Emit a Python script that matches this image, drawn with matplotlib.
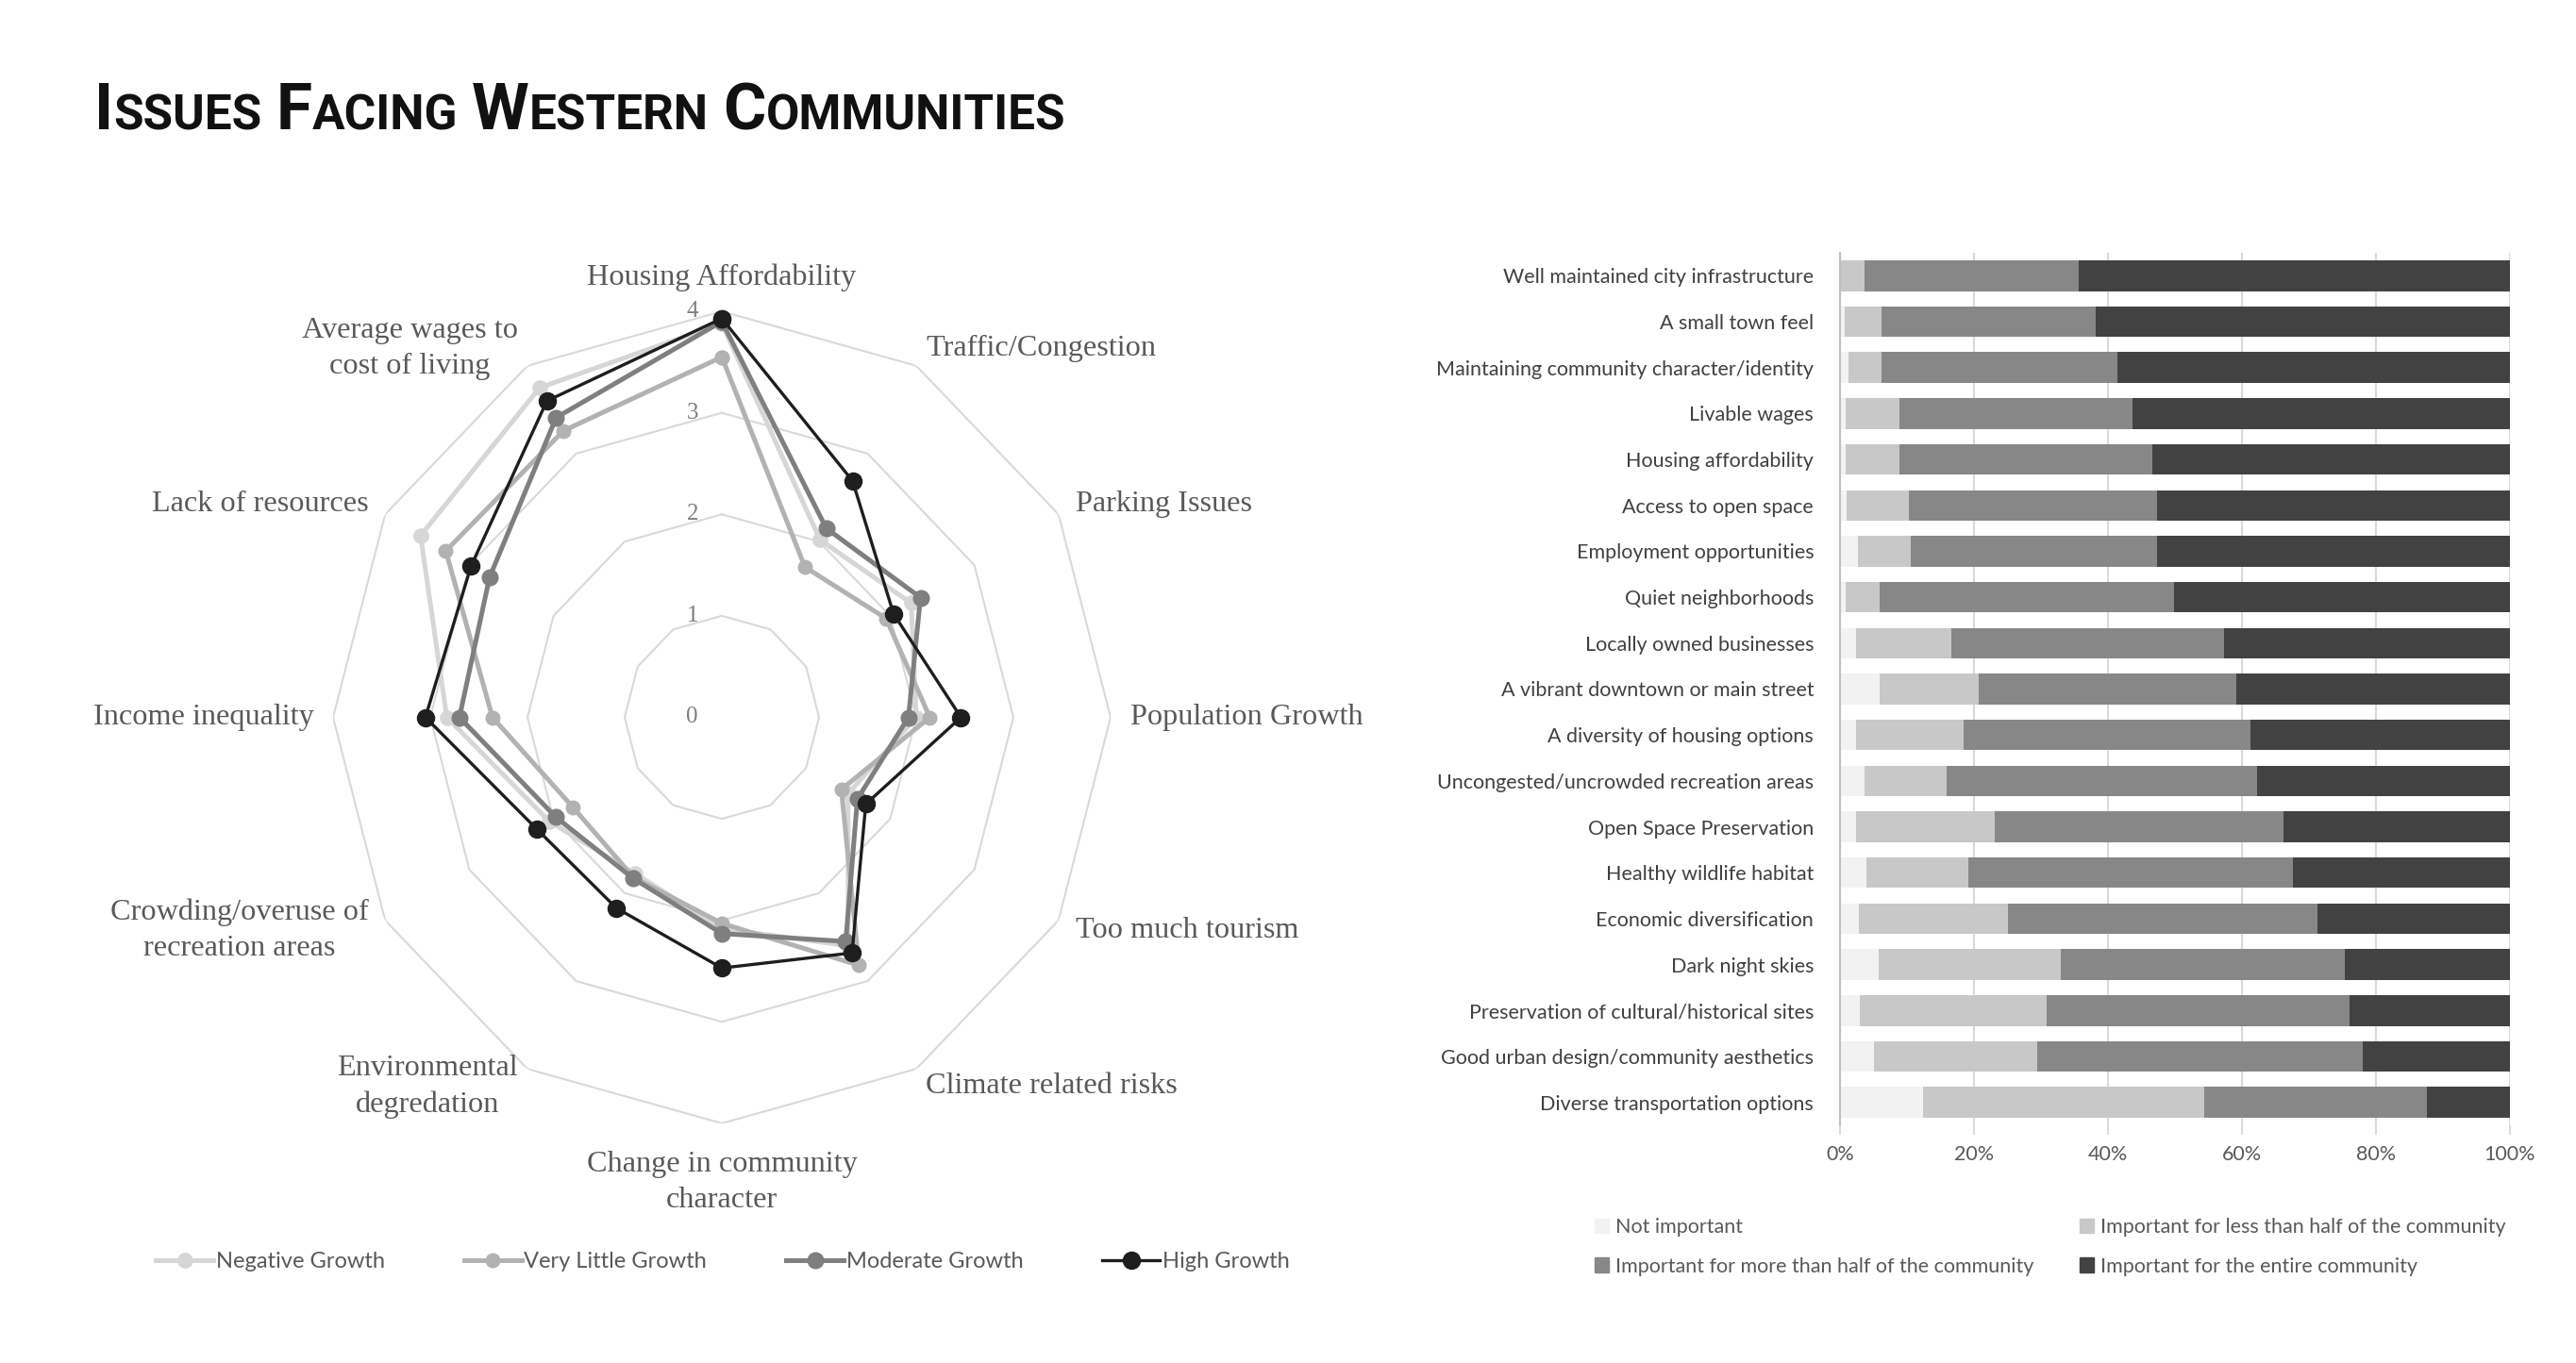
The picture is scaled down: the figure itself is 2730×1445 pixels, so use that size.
import numpy as np
import matplotlib.pyplot as plt
from matplotlib.lines import Line2D
from matplotlib.patches import Patch

# --- radar data: average rating (0-4) by community growth type ---
issues = ['Housing Affordability', 'Traffic/Congestion', 'Parking Issues', 'Population Growth',
          'Too much tourism', 'Climate related risks', 'Change in community\ncharacter',
          'Environmental\ndegredation', 'Crowding/overuse of\nrecreation areas', 'Income inequality',
          'Lack of resources', 'Average wages to\ncost of living']
negative_growth = [3.88, 2.02, 2.25, 2.00, 1.50, 2.60, 2.08, 1.78, 2.05, 2.83, 3.58, 3.75]
very_little_growth = [3.55, 1.71, 1.95, 2.14, 1.42, 2.82, 2.03, 1.82, 1.77, 2.36, 3.28, 3.26]
moderate_growth = [3.90, 2.15, 2.36, 1.92, 1.61, 2.55, 2.13, 1.83, 1.97, 2.70, 2.76, 3.41]
high_growth = [3.93, 2.69, 2.04, 2.46, 1.71, 2.68, 2.47, 2.17, 2.20, 3.05, 2.98, 3.60]
ring_levels = [0, 1, 2, 3, 4]

# --- stacked bar data (% of respondents) ---
priorities = ['Well maintained city infrastructure', 'A small town feel',
              'Maintaining community character/identity', 'Livable wages', 'Housing affordability',
              'Access to open space', 'Employment opportunities', 'Quiet neighborhoods',
              'Locally owned businesses', 'A vibrant downtown or main street',
              'A diversity of housing options', 'Uncongested/uncrowded recreation areas',
              'Open Space Preservation', 'Healthy wildlife habitat', 'Economic diversification',
              'Dark night skies', 'Preservation of cultural/historical sites',
              'Good urban design/community aesthetics', 'Diverse transportation options']
not_important = [0.0, 0.7, 1.3, 0.8, 0.8, 1.0, 2.7, 0.8, 2.4, 5.9, 2.4, 3.7, 2.4, 4.0, 2.8, 5.8, 3.0, 5.1, 12.4]
less_than_half = [3.6, 5.5, 4.9, 8.1, 8.1, 9.3, 7.8, 5.1, 14.2, 14.8, 16.0, 12.2, 20.7, 15.2, 22.3, 27.1, 27.8, 24.4, 41.9]
more_than_half = [32.0, 31.9, 35.2, 34.7, 37.7, 37.0, 36.8, 43.9, 40.7, 38.5, 42.9, 46.3, 43.1, 48.4, 46.1, 42.4, 45.2, 48.5, 33.3]
entire_community = [64.4, 61.9, 58.6, 56.4, 53.4, 52.7, 52.7, 50.2, 42.7, 40.8, 38.7, 37.8, 33.8, 32.4, 28.8, 24.7, 24.0, 22.0, 12.4]
xticks = [0, 20, 40, 60, 80, 100]

W, H = 2730, 1445
fig = plt.figure(figsize=(W / 100, H / 100), dpi=100)
fig.patch.set_facecolor('white')

serif = 'Liberation Serif'
sans = 'Lato'

# title in small caps, built word by word
tax = fig.add_axes([0, 0, 1, 1])
tax.axis('off')
tax.patch.set_visible(False)
title_words = ['Issues', 'Facing', 'Western', 'Communities']
tfont = dict(family='Roboto', weight='bold', color='#111111')
base_y = 1 - 137 / H
prev = None
for w in title_words:
    if prev is None:
        prev = tax.text(100 / W, base_y, w[0], fontsize=50, va='baseline', ha='left', **tfont)
    else:
        prev = tax.annotate(w[0], xy=(1, base_y), xycoords=(prev, 'axes fraction'),
                            xytext=(11, 0), textcoords='offset points',
                            fontsize=50, va='baseline', ha='left', **tfont)
    prev = tax.annotate(w[1:].upper(), xy=(1, base_y), xycoords=(prev, 'axes fraction'),
                        fontsize=37, va='baseline', ha='left', **tfont)

# ---------------- radar ----------------
cx, cy = 765, 760.5
rx, ry = 4 * 103, 4 * 107.6
rax = fig.add_axes([(cx - rx) / W, (H - cy - ry) / H, 2 * rx / W, 2 * ry / H], projection='polar')
rax.set_aspect('auto')
rax.set_theta_zero_location('N')
rax.set_theta_direction(-1)
rax.set_ylim(0, 4)
rax.grid(False)
rax.spines['polar'].set_visible(False)
rax.set_xticks([])
rax.set_yticks([])
rax.patch.set_visible(False)

n = len(issues)
theta = np.arange(n) * 2 * np.pi / n
theta_c = np.append(theta, theta[0])

for lev in ring_levels[1:]:
    rax.plot(theta_c, [lev] * (n + 1), color='#d9d9d9', lw=1.5, zorder=1)
for lev in ring_levels:
    rax.annotate(str(lev), xy=(0, lev), xytext=(-18, 0), textcoords='offset points',
                 ha='right', va='center', fontsize=18, family=serif, color='#7f7f7f')

series = [
    ('Negative Growth', negative_growth, '#d6d6d6', 3.6, 11),
    ('Very Little Growth', very_little_growth, '#b2b2b2', 3.6, 10.5),
    ('Moderate Growth', moderate_growth, '#7f7f7f', 3.6, 12),
    ('High Growth', high_growth, '#1e1e1e', 2.4, 13),
]
handles = []
for i, (name, vals, col, lw, ms) in enumerate(series):
    v = np.append(vals, vals[0])
    rax.plot(theta_c, v, color=col, lw=lw, marker='o', ms=ms, clip_on=False, zorder=3 + i)
    handles.append(Line2D([], [], color=col, lw=lw, marker='o', ms=ms, label=name))

for t, lab in zip(theta, issues):
    deg = np.degrees(t)
    r_lab = 4.2
    if np.isclose(deg, 0):
        ha, va = 'center', 'bottom'
    elif np.isclose(deg, 180):
        ha, va = 'center', 'top'
        r_lab = 4.27
    elif deg < 180:
        ha, va = 'left', 'center'
    else:
        ha, va = 'right', 'center'
    rax.text(t, r_lab, lab, ha=ha, va=va, multialignment='center', fontsize=23.2,
             family=serif, color='#595959', linespacing=1.4)

fig.legend(handles=handles, loc='center left', bbox_to_anchor=(165 / W, 1 - 1338 / H),
           ncol=4, frameon=False, handlelength=2.6, handletextpad=0.1,
           columnspacing=3.55, borderpad=0, borderaxespad=0,
           prop=dict(family=sans, size=17), labelcolor='#595959')

# ---------------- stacked bars ----------------
bax = fig.add_axes([1950 / W, (H - 1193) / H, 710 / W, 925 / H])
y = np.arange(len(priorities))
cols = ['#f2f2f2', '#c8c8c8', '#878787', '#424242']
names = ['Not important', 'Important for less than half of the community',
         'Important for more than half of the community', 'Important for the entire community']
left = np.zeros(len(priorities))
for vals, col, name in zip([not_important, less_than_half, more_than_half, entire_community], cols, names):
    v = np.array(vals) / 100
    bax.barh(y, v, left=left, height=0.667, color=col, label=name, zorder=2)
    left += v

bax.set_ylim(len(priorities) - 0.5, -0.5)
bax.set_xlim(0, 1)
bax.set_yticks(y)
bax.set_yticklabels(priorities, family=sans, fontsize=15.5, color='#404040')
bax.set_xticks(np.array(xticks) / 100)
bax.set_xticklabels([f'{t}%' for t in xticks], family=sans, fontsize=15.5, color='#595959')
bax.tick_params(axis='y', length=0, pad=20)
bax.tick_params(axis='x', length=7, width=1.3, color='#d9d9d9', pad=8)
bax.grid(axis='x', color='#d9d9d9', lw=1.5, zorder=1)
for s in ['top', 'right', 'bottom']:
    bax.spines[s].set_visible(False)
bax.spines['left'].set_color('#bfbfbf')
bax.spines['left'].set_linewidth(1.5)

patches = [Patch(color=c, label=nm) for c, nm in zip(cols, names)]
order = [0, 2, 1, 3]
fig.legend(handles=[patches[i] for i in order], loc='upper left',
           bbox_to_anchor=(1690 / W, 1 - 1291 / H), ncol=2, frameon=False,
           prop=dict(family=sans, size=15.5), labelcolor='#595959', handlelength=0.7,
           handleheight=0.7, handletextpad=0.3, columnspacing=2.3, labelspacing=1.0,
           borderpad=0, borderaxespad=0)

fig.savefig('out.png', dpi=100)
